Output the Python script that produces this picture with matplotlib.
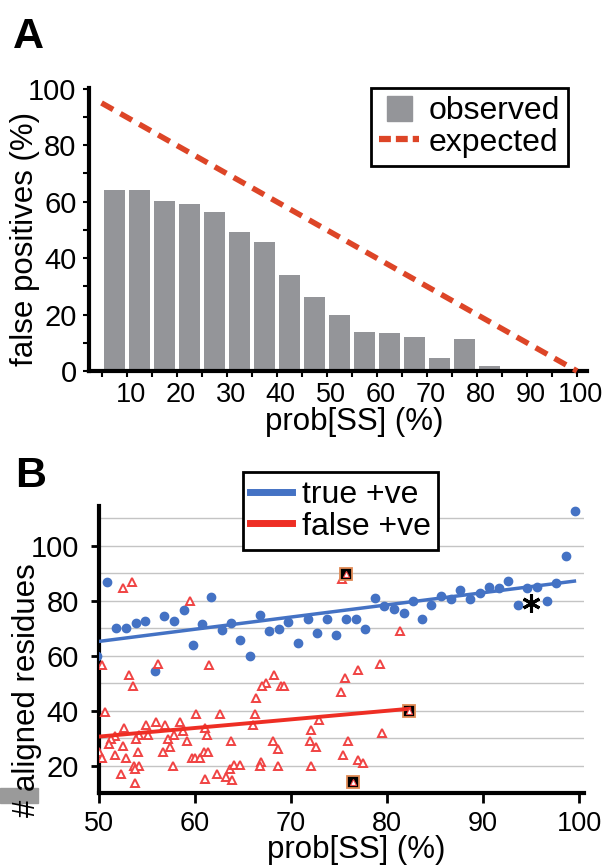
import matplotlib
matplotlib.use("Agg")
import matplotlib.pyplot as plt
import matplotlib.transforms as mtransforms
from matplotlib.lines import Line2D
from matplotlib.patches import Rectangle
from matplotlib.ticker import MultipleLocator

plt.rcParams["font.family"] = ["Liberation Sans", "DejaVu Sans"]

# ------------------------------------------------------------------------------
#   Data
# ------------------------------------------------------------------------------

# Panel A: false positives per prob[SS] bin
bin_centers = [7.5, 12.5, 17.5, 22.5, 27.5, 32.5, 37.5, 42.5,
               47.5, 52.5, 57.5, 62.5, 67.5, 72.5, 77.5, 82.5]
observed = [64.3, 64.1, 60.3, 59.1, 56.2, 49.1, 45.6, 33.9,
            26.2, 19.7, 13.8, 13.3, 12.1, 4.5, 11.3, 1.7]
expected_x = [5, 100]
expected_y = [95, 0]

# Panel B: true positives
true_x = [49.8, 50.8, 51.8, 52.8, 53.8, 54.8, 55.8, 56.8, 57.8, 58.8,
          59.8, 60.7, 61.7, 62.8, 63.7, 64.7, 65.7, 66.7, 67.7, 68.7,
          69.7, 70.7, 71.7, 72.7, 73.7, 74.7, 75.7, 76.7, 77.7, 78.7,
          79.7, 80.7, 81.7, 82.7, 83.6, 84.6, 85.6, 86.6, 87.6, 88.6,
          89.7, 90.6, 91.6, 92.6, 93.6, 94.6, 95.6, 96.6, 97.6, 98.6,
          99.6]
true_y = [60.0, 86.7, 70.2, 70.2, 72.0, 72.6, 54.7, 74.7, 72.8, 76.6,
          63.8, 71.5, 81.3, 69.6, 71.9, 65.8, 60.0, 74.8, 69.2, 69.7,
          72.2, 64.8, 73.6, 68.2, 73.6, 67.5, 73.6, 73.6, 69.7, 81.0,
          78.2, 77.0, 75.5, 80.0, 73.5, 78.4, 81.9, 80.6, 84.1, 80.6,
          83.0, 85.2, 84.6, 87.3, 78.5, 84.6, 85.1, 79.8, 86.4, 96.4,
          112.7]

# Panel B: false positives
false_x = [53.4, 52.5, 59.5, 50.3, 56.1, 61.4, 53.1, 53.5, 50.6, 60.1,
           62.6, 66.2, 66.3, 66.0, 52.6, 54.9, 55.9, 56.9, 58.4, 58.7,
           61.0, 61.2, 51.6, 51.2, 51.0, 54.1, 53.8, 55.1, 57.2, 57.8,
           57.4, 59.2, 50.0, 50.3, 52.5, 51.7, 52.8, 54.0, 53.6, 54.1,
           53.7, 52.3, 53.7, 56.7, 57.7, 59.7, 60.0, 60.5, 60.9, 61.3,
           61.0, 62.3, 63.2, 63.6, 63.8, 64.0, 64.7, 63.7,
           75.3, 81.3, 68.2, 67.4, 67.0, 68.9, 69.2, 72.9, 72.1, 68.1,
           68.6, 72.0, 72.6, 66.9, 66.7, 68.6, 72.1, 75.4, 75.9, 75.2,
           75.6, 77.0, 79.3, 79.5, 77.0, 77.5]
false_y = [86.7, 84.7, 79.8, 56.6, 56.9, 56.7, 52.9, 49.0, 39.5, 38.9,
           38.9, 39.0, 44.7, 34.8, 33.8, 34.9, 35.9, 34.9, 35.9, 32.9,
           33.8, 31.3, 31.0, 29.8, 27.9, 31.1, 29.9, 31.1, 29.9, 31.3,
           26.8, 29.1, 25.2, 22.8, 27.3, 24.0, 23.0, 25.1, 20.1, 20.1,
           18.8, 17.1, 13.9, 25.1, 20.1, 23.0, 22.8, 23.0, 25.1, 25.1,
           15.2, 17.2, 16.0, 19.0, 14.9, 20.2, 20.2, 29.1,
           87.9, 69.1, 53.2, 50.1, 49.1, 49.1, 49.1, 36.7, 33.1, 29.1,
           26.1, 29.1, 27.0, 21.6, 20.1, 20.1, 20.1, 24.0, 29.1, 47.0,
           51.9, 54.9, 57.0, 32.1, 22.2, 21.0]

# Highlighted false positives (boxed)
boxed_x = [75.7, 82.3, 76.4]
boxed_y = [89.8, 40.0, 14.1]

# Marked true positive
star_x = [95.0]
star_y = [79.4]

# Linear trends
true_fit_x = [50.0, 99.5]
true_fit_y = [65.3, 87.2]
false_fit_x = [50.0, 82.3]
false_fit_y = [30.7, 40.8]

# ------------------------------------------------------------------------------
#   Plot lay-out
# ------------------------------------------------------------------------------

W, H = 606, 865
fig = plt.figure(figsize=(W / 100, H / 100), dpi=100)


def px_axes(x0, y0, x1, y1):
    """Axes from pixel box (top-left origin)."""
    return fig.add_axes([x0 / W, 1 - y1 / H, (x1 - x0) / W, (y1 - y0) / H])


bar_color = "#949599"
exp_color = "#dd4527"
blue = "#4472c4"
red = "#ee2e24"
tri_red = "#f04343"
lab_fs = 22.5
leg_fs = 23
spine_lw = 3.0

# ------------------------------------------------------------------------------
#   Panel A
# ------------------------------------------------------------------------------

axA = px_axes(89, 88, 587, 371)
axA.bar(bin_centers, observed, width=4.2, color=bar_color, zorder=2)
axA.plot(expected_x, expected_y, color=exp_color, lw=4.0,
         dashes=(2.4, 1.5), zorder=3, clip_on=False)

axA.set_xlim(2.5, 102)
axA.set_ylim(0, 100.3)
axA.xaxis.set_major_locator(MultipleLocator(10))
axA.xaxis.set_minor_locator(MultipleLocator(5))
axA.yaxis.set_major_locator(MultipleLocator(20))
axA.yaxis.set_minor_locator(MultipleLocator(10))
axA.tick_params(axis="x", which="both", direction="out", length=4, width=1.5,
                labelsize=19.5, pad=4)
axA.tick_params(axis="y", which="both", direction="out", length=4, width=1.5,
                labelsize=21, pad=5)
for lbl in axA.get_xticklabels():
    lbl.set_transform(lbl.get_transform() + mtransforms.ScaledTranslation(
        0.04, 0, fig.dpi_scale_trans))

for side in ["top", "right"]:
    axA.spines[side].set_visible(False)
for side in ["left", "bottom"]:
    axA.spines[side].set_linewidth(spine_lw)

handles_A = [
    Line2D([], [], marker="s", markersize=18, color=bar_color, linestyle="none"),
    Line2D([], [], color=exp_color, lw=4.5, dashes=(1.9, 0.8)),
]
legA = axA.legend(handles_A, ["observed", "expected"],
                  loc="upper left", bbox_to_anchor=(371 / W, 1 - 88 / H),
                  bbox_transform=fig.transFigure, fontsize=leg_fs,
                  frameon=True, fancybox=False, framealpha=1,
                  edgecolor="black", borderpad=0.25, handlelength=1.25,
                  handletextpad=0.3, labelspacing=0.05, borderaxespad=0)
legA.get_frame().set_linewidth(2.0)

fig.text(13 / W, 1 - 48 / H, "A", fontsize=31, fontweight="bold",
         ha="left", va="baseline")
fig.text(25 / W, 1 - 238.5 / H, "false positives (%)", fontsize=lab_fs,
         rotation=90, ha="center", va="center")
fig.text(354 / W, 1 - 422 / H, "prob[SS] (%)", fontsize=lab_fs,
         ha="center", va="center")

# ------------------------------------------------------------------------------
#   Panel B
# ------------------------------------------------------------------------------

axB = px_axes(98.5, 506, 584, 792.7)
axB.plot(true_x, true_y, "o", color=blue, markersize=6, zorder=3)
axB.plot(false_x, false_y, "^", mfc="white", mec=tri_red, mew=1.4,
         markersize=5.8, linestyle="none", zorder=4)
axB.plot(boxed_x, boxed_y, "s", mfc="black", mec="#e08a55", mew=1.3,
         markersize=8.5, linestyle="none", zorder=5)
axB.plot(boxed_x, boxed_y, "^", mfc="white", mec=tri_red, mew=0.8,
         markersize=3.8, linestyle="none", zorder=6)
axB.plot(star_x, star_y, marker=(6, 2, 0), color="black", markersize=13,
         mew=2.2, linestyle="none", zorder=6)
axB.plot(true_fit_x, true_fit_y, color=blue, lw=2.5, zorder=5)
axB.plot(false_fit_x, false_fit_y, color=red, lw=2.8, zorder=5)

axB.set_xlim(49.93, 100.5)
axB.set_ylim(10.3, 114.5)
axB.xaxis.set_major_locator(MultipleLocator(10))
axB.yaxis.set_major_locator(MultipleLocator(20))
axB.yaxis.set_minor_locator(MultipleLocator(10))
axB.grid(True, axis="y", which="both", color="#c4c4c4", lw=1.0, zorder=0)
axB.set_axisbelow(True)
axB.tick_params(axis="x", which="both", direction="out", length=7, width=2,
                labelsize=19.5, pad=6)
axB.tick_params(axis="y", which="major", direction="out", length=6, width=2,
                labelsize=21, pad=8)
axB.tick_params(axis="y", which="minor", length=0)

for side in ["top", "right"]:
    axB.spines[side].set_visible(False)
for side in ["left", "bottom"]:
    axB.spines[side].set_linewidth(spine_lw)

handles_B = [
    Line2D([], [], color=blue, lw=5),
    Line2D([], [], color=red, lw=5),
]
legB = axB.legend(handles_B, ["true +ve", "false +ve"],
                  loc="upper left", bbox_to_anchor=(242.5 / W, 1 - 472 / H),
                  bbox_transform=fig.transFigure, fontsize=leg_fs,
                  frameon=True, fancybox=False, framealpha=1,
                  edgecolor="black", borderpad=0.25, handlelength=1.3,
                  handletextpad=0.3, labelspacing=0.05, borderaxespad=0)
legB.get_frame().set_linewidth(2.0)
legB.set_zorder(10)

fig.patches.append(Rectangle((0, 1 - 803 / H), 38 / W, 15 / H,
                             transform=fig.transFigure, color="#9a9a9a",
                             zorder=0))
fig.text(15 / W, 1 - 487 / H, "B", fontsize=31, fontweight="bold",
         ha="left", va="baseline")
fig.text(27 / W, 1 - 690 / H, "# aligned residues", fontsize=lab_fs,
         rotation=90, ha="center", va="center")
fig.text(356 / W, 1 - 850 / H, "prob[SS] (%)", fontsize=lab_fs,
         ha="center", va="center")

fig.savefig("out.png", dpi=100)
